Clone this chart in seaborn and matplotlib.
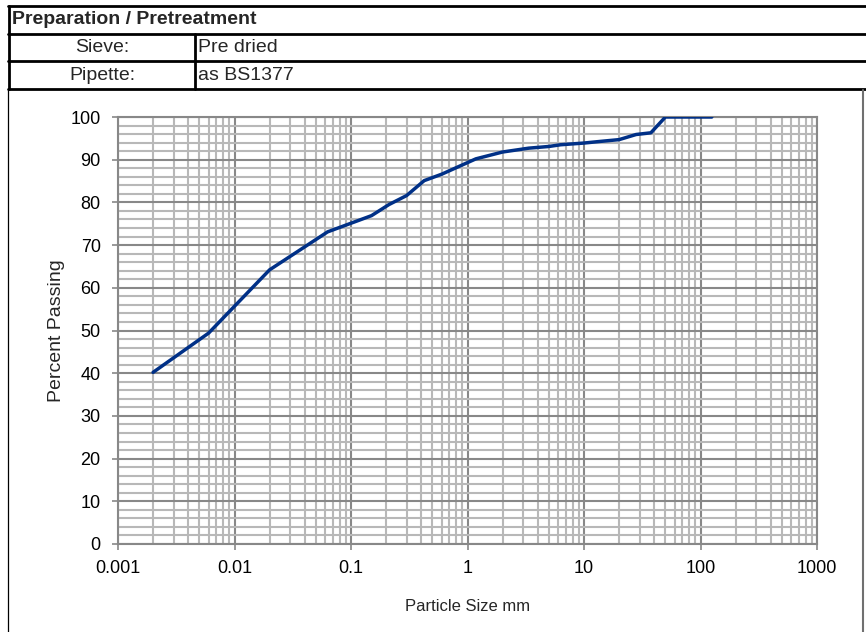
import matplotlib
matplotlib.use("Agg")
import matplotlib.pyplot as plt
import matplotlib.ticker as mticker
from matplotlib.lines import Line2D
import seaborn as sns
import pandas as pd

# grading data (sieve + pipette)
sizes_mm = [125, 90, 75, 63, 50, 37.5, 28, 20, 14, 10, 6.3, 5, 3.35, 2, 1.18,
            0.6, 0.425, 0.3, 0.212, 0.15, 0.063, 0.02, 0.006, 0.002]
passing = [100, 100, 100, 100, 100, 96.3, 95.9, 94.7, 94.3, 93.9, 93.5, 93.1, 92.7, 91.8, 90.2,
           86.6, 85.1, 81.6, 79.5, 76.9, 73.1, 64.2, 49.4, 40.2]

x_ticks = [0.001, 0.01, 0.1, 1, 10, 100, 1000]
x_tick_labels = ["0.001", "0.01", "0.1", "1", "10", "100", "1000"]

table_rows = [("Sieve:", "Pre dried"), ("Pipette:", "as BS1377")]

sns.set_theme(style="white")
plt.rcParams["font.family"] = ["Liberation Sans", "DejaVu Sans"]

W, H = 866, 632
fig = plt.figure(figsize=(W / 100, H / 100), dpi=100)


def fx(px):
    return px / W


def fy(py):
    return 1 - py / H


ax = fig.add_axes([fx(118), fy(544), fx(817) - fx(118), fy(117) - fy(544)])

df = pd.DataFrame({"size": sizes_mm, "passing": passing})
sns.lineplot(data=df, x="size", y="passing", sort=False, ax=ax,
             color="#003087", linewidth=2.5, zorder=5)

ax.set_xscale("log")
ax.set_xlim(0.001, 1000)
ax.set_ylim(0, 100)
ax.xaxis.set_major_locator(mticker.FixedLocator(x_ticks))
ax.xaxis.set_major_formatter(mticker.FixedFormatter(x_tick_labels))
ax.xaxis.set_minor_locator(mticker.LogLocator(base=10, subs=range(2, 10), numticks=20))
ax.xaxis.set_minor_formatter(mticker.NullFormatter())
ax.yaxis.set_major_locator(mticker.MultipleLocator(10))
ax.yaxis.set_minor_locator(mticker.MultipleLocator(2))

ax.grid(which="minor", color="#b8b8b8", linewidth=1.5)
ax.grid(which="major", color="#888888", linewidth=1.5)
ax.set_axisbelow(True)

for sp in ax.spines.values():
    sp.set_color("#888888")
    sp.set_linewidth(1.5)

ax.tick_params(which="major", direction="out", length=4.5, width=1.2, color="#888888",
               labelsize=13, labelcolor="black", bottom=True, left=True)
ax.tick_params(axis="x", which="major", pad=7)
ax.tick_params(axis="y", which="major", pad=8)
ax.tick_params(which="minor", length=0)

ax.set_xlabel("Particle Size mm", fontsize=12, labelpad=16)
ax.set_ylabel("Percent Passing", fontsize=14, labelpad=4)

# header table
lw_t = 2.0
for y in (6, 34, 61, 89):
    fig.add_artist(Line2D([fx(8), 1.0], [fy(y), fy(y)], color="black", linewidth=lw_t))
fig.add_artist(Line2D([fx(9), fx(9)], [fy(6), fy(89)], color="black", linewidth=lw_t))
fig.add_artist(Line2D([fx(195), fx(195)], [fy(34), fy(89)], color="black", linewidth=lw_t))

fig.text(fx(12), fy(20), "Preparation / Pretreatment", fontsize=14, fontweight="bold",
         ha="left", va="center")
for i, (lab, val) in enumerate(table_rows):
    yc = fy(48 + i * 27)
    fig.text(fx(102), yc, lab, fontsize=14, ha="center", va="center")
    fig.text(fx(198), yc, val, fontsize=14, ha="left", va="center")

# chart frame
fig.add_artist(Line2D([fx(8), fx(8)], [fy(90), 0], color="black", linewidth=0.9))
fig.add_artist(Line2D([fx(863), fx(863)], [fy(90), 0], color="#707070", linewidth=1.5))

fig.savefig("out.png", dpi=100, facecolor="white")
